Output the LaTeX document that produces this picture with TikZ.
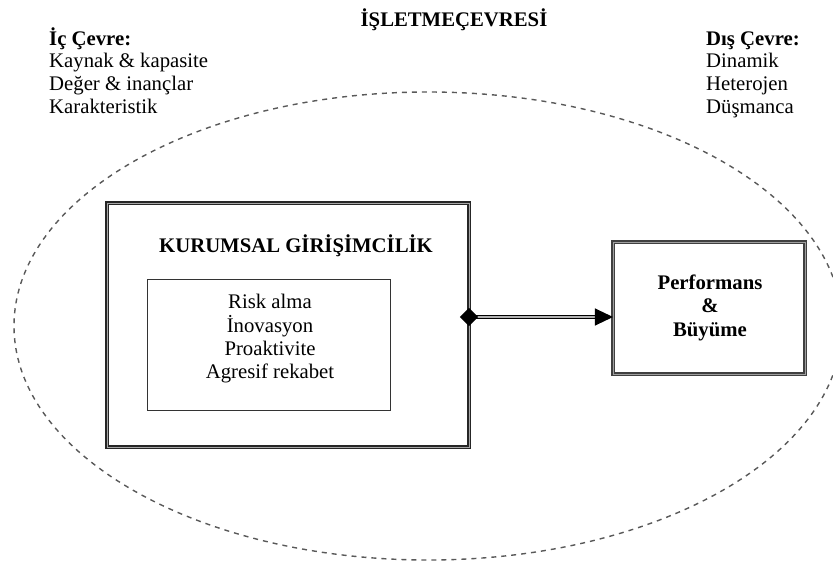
\documentclass[tikz,border=0pt]{standalone}
\usepackage{fontspec}
\setmainfont{Liberation Serif}
\usetikzlibrary{arrows.meta}

\newlength{\px}
\setlength{\px}{0.03cm}

\tikzset{
    txt/.style={inner sep=0, anchor=base, font=\fontsize{17.7}{20}\selectfont},
    hd/.style={txt, font=\fontsize{17.7}{20}\selectfont\bfseries},
    envline/.style={dashed, dash pattern=on 5\px off 5\px, draw=black!65, line width=1.4\px},
    bigbox/.style={draw=black!85, double=gray!70, line width=1.5\px, double distance=0.8\px,
        inner sep=0, outer sep=0},
    resbox/.style={draw=gray!50!black, double=gray!75, line width=1.3\px, double distance=1\px,
        inner sep=0, outer sep=0},
    dimbox/.style={draw=black!80, line width=1\px, inner sep=0, outer sep=0},
    link/.style={draw=black, double=gray!60, line width=1.2\px, double distance=1.2\px,
        {Diamond[length=15.4pt,width=15.4pt]}-{Triangle[length=15.4pt,width=14.5pt]}}
}

\begin{document}
\begin{tikzpicture}[x=\px, y=-\px]
    \useasboundingbox (0,0) rectangle (833,562);

    % isletme cevresi
    \draw [envline] (428,326) ellipse [x radius=414\px, y radius=234\px];
    \node [hd] (title) at (454,27) {İŞLETMEÇEVRESİ};

    \node [hd, anchor=base west] (ic0) at (49,46) {İç Çevre:};
    \node [txt, anchor=base west] (ic1) at (49,68) {Kaynak \& kapasite};
    \node [txt, anchor=base west] (ic2) at (49,91) {Değer \& inançlar};
    \node [txt, anchor=base west] (ic3) at (49,113) {Karakteristik};

    \node [hd, anchor=base west] (dc0) at (706,46) {Dış Çevre:};
    \node [txt, anchor=base west] (dc1) at (706,68) {Dinamik};
    \node [txt, anchor=base west] (dc2) at (706,91) {Heterojen};
    \node [txt, anchor=base west] (dc3) at (706,113) {Düşmanca};

    % kurumsal girisimcilik
    \node [bigbox, minimum width=362\px, minimum height=244\px] (kg) at (288,325) {};
    \node [hd] (kgtitle) at (296,252) {KURUMSAL GİRİŞİMCİLİK};
    \node [dimbox, minimum width=243\px, minimum height=131\px] (dim) at (268.5,344.5) {};
    \node [txt] (d1) at (270,308) {Risk alma};
    \node [txt] (d2) at (270,332) {İnovasyon};
    \node [txt] (d3) at (270,355) {Proaktivite};
    \node [txt] (d4) at (270,378) {Agresif rekabet};

    % performans
    \node [resbox, minimum width=192\px, minimum height=132\px] (pb) at (709,308) {};
    \node [hd] (p1) at (710,289) {Performans};
    \node [hd] (p2) at (710,312) {\&};
    \node [hd] (p3) at (710,336) {Büyüme};

    \coordinate (ay) at (0,317);
    \draw [link, shorten <=-7.7pt] (kg.east |- ay) -- (pb.west |- ay);
\end{tikzpicture}
\end{document}
